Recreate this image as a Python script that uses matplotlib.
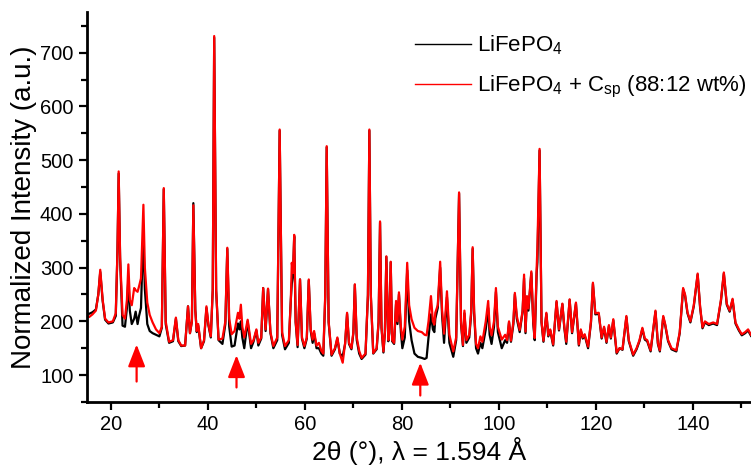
import matplotlib
matplotlib.use("Agg")
import matplotlib.pyplot as plt

plt.rcParams['font.family'] = ['Liberation Sans', 'DejaVu Sans']
plt.rcParams['mathtext.fontset'] = 'custom'
plt.rcParams['mathtext.rm'] = 'Liberation Sans'
plt.rcParams['mathtext.it'] = 'Liberation Sans:italic'

# 2theta positions (deg), with intensities for both samples
two_theta = [
    14.9, 15.5, 16.2, 16.9, 17.4, 17.8, 18.3, 18.8, 19.5, 20.4, 21.0, 21.35, 21.6, 21.9,
    22.4, 22.9, 23.3, 23.6, 23.9, 24.3, 24.8, 25.1, 25.5, 25.8, 26.2, 26.45, 26.7, 27.0, 27.5, 28.0, 28.6, 29.3,
    30.0, 30.5, 30.9, 31.3, 32.0, 32.8, 33.4, 33.9, 34.5, 35.3, 35.9, 36.3, 36.7, 37.0, 37.4, 37.7, 38.0, 38.6,
    39.2, 39.7, 40.1, 40.6, 41.0, 41.3, 41.7, 42.2, 43.0, 43.6, 44.0, 44.4,
    44.9, 45.5, 46.2, 46.5, 46.8, 47.1, 47.5, 48.2, 48.9, 49.4, 50.0, 50.4, 51.0, 51.4, 51.9, 52.4, 52.9, 53.5,
    54.3, 54.8, 55.3, 55.9, 56.7, 57.1, 57.3, 57.55, 57.8, 58.1, 58.5, 59.0, 59.4, 59.9, 60.4, 60.8, 61.2, 61.6, 61.9,
    62.4, 62.9, 63.4, 63.8, 64.2, 64.5, 64.9, 65.5, 66.2, 66.7, 67.2, 67.8, 68.3, 68.7, 69.1, 69.6, 70.0, 70.3, 70.7,
    71.2, 71.7, 72.5, 73.0, 73.3, 73.6, 74.1, 74.8, 75.2, 75.5, 75.8, 76.2, 76.5, 76.8, 77.2, 77.4, 77.7, 78.0, 78.4, 78.8, 79.1, 79.4, 79.8, 80.1,
    80.6, 81.1, 81.5, 82.0, 82.6, 83.3, 84.1, 84.7, 85.1, 85.5, 86.0, 86.4, 86.7, 86.9, 87.4, 87.9, 88.3, 88.7, 89.3, 89.8, 90.6,
    91.2, 91.8, 92.2, 92.6, 92.9, 93.3, 93.9, 94.3, 94.6, 94.9, 95.3, 95.7, 96.2, 96.6, 97.3, 97.8, 98.1, 98.5, 99.0, 99.4, 99.8,
    100.6, 101.3, 101.7, 102.1, 102.5, 103.0, 103.3, 103.7, 104.3, 104.9, 105.2, 105.5, 105.8, 106.1, 106.7, 107.1, 107.4, 107.8, 107.95, 108.4, 108.8, 109.2,
    109.8, 110.2, 110.6, 111.2, 111.9, 112.4, 113.1, 113.5, 113.9, 114.6, 115.1, 115.9, 116.5, 116.9, 117.3, 117.7, 118.4,
    119.0, 119.4, 119.9, 120.6, 121.2, 121.7, 122.2, 122.7, 123.1, 123.6, 124.3, 124.9, 125.5, 126.3, 126.8, 127.7,
    128.4, 129.0, 129.6, 130.1, 130.6, 131.3, 132.3, 132.8, 133.2, 133.9, 134.3, 134.9, 135.6, 136.6, 137.3,
    138.0, 138.4, 138.9, 139.5, 140.2, 141.0, 141.5, 142.0, 142.5, 143.3, 144.2, 145.0, 145.8, 146.4, 147.0, 147.6, 148.2, 148.8, 149.5, 150.1, 150.8, 151.4, 152.0,
]

lfp = [
    215, 214, 217, 222, 250, 292, 238, 203, 196, 198, 210, 330, 475, 315,
    192, 190, 225, 280, 220, 195, 205, 218, 195, 210, 225, 300, 353, 260, 195, 182, 178, 175,
    172, 188, 446, 195, 160, 163, 205, 163, 154, 155, 228, 178, 200, 420, 222, 180, 192, 150,
    163, 225, 193, 170, 258, 728, 258, 165, 158, 195, 335, 190,
    153, 155, 196, 185, 200, 170, 150, 200, 150, 162, 183, 155, 168, 262, 182, 260, 178, 150,
    165, 555, 175, 148, 160, 240, 270, 285, 358, 198, 152, 278, 168, 150, 168, 276, 182, 160, 178,
    150, 150, 140, 136, 245, 524, 198, 136, 148, 168, 140, 135, 158, 214, 158, 148, 178, 268, 165,
    140, 130, 138, 248, 555, 248, 140, 148, 198, 384, 188, 142, 178, 320, 163, 178, 310, 163, 158, 232, 195, 250, 180, 150,
    170, 295, 200, 165, 140, 134, 132, 130, 132, 170, 213, 185, 180, 205, 225, 300, 210, 160, 245, 160, 134,
    165, 438, 195, 154, 215, 160, 170, 215, 335, 215, 150, 140, 160, 150, 185, 225, 175, 158, 190, 255, 180,
    150, 165, 160, 198, 162, 195, 250, 205, 180, 218, 280, 178, 245, 220, 290, 195, 165, 290, 310, 518, 198, 162,
    214, 172, 183, 155, 236, 183, 232, 188, 158, 240, 178, 233, 155, 183, 168, 174, 150,
    198, 270, 213, 214, 168, 188, 160, 191, 168, 202, 140, 150, 147, 208, 163, 136,
    148, 163, 186, 166, 163, 144, 218, 158, 144, 208, 193, 163, 148, 144, 178,
    260, 248, 215, 198, 228, 287, 226, 187, 198, 193, 196, 193, 238, 289, 231, 218, 240, 196, 183, 174, 178, 183, 173,
]

lfp_csp = [
    212, 208, 213, 220, 250, 296, 240, 205, 198, 200, 215, 330, 479, 320,
    212, 205, 240, 306, 240, 230, 262, 258, 255, 265, 280, 350, 417, 300, 235, 212, 198, 185,
    178, 190, 448, 200, 162, 165, 207, 165, 155, 155, 228, 178, 200, 416, 220, 182, 195, 150,
    165, 228, 195, 172, 260, 731, 260, 166, 168, 200, 337, 205,
    176, 182, 216, 205, 231, 190, 170, 203, 158, 165, 185, 160, 170, 262, 185, 261, 180, 154,
    170, 557, 180, 154, 165, 240, 309, 290, 361, 200, 156, 278, 170, 154, 170, 278, 185, 166, 182,
    155, 160, 145, 140, 250, 526, 200, 138, 150, 170, 140, 123, 160, 216, 160, 150, 180, 269, 170,
    145, 132, 140, 250, 557, 250, 141, 150, 200, 386, 190, 144, 180, 321, 165, 180, 311, 165, 160, 238, 200, 254, 190, 166,
    190, 309, 230, 204, 188, 182, 180, 175, 174, 200, 247, 200, 194, 216, 230, 311, 220, 177, 256, 175, 144,
    170, 440, 200, 156, 220, 165, 175, 220, 338, 220, 158, 150, 172, 162, 200, 238, 190, 174, 200, 262, 190,
    166, 175, 165, 200, 164, 200, 253, 210, 184, 220, 287, 181, 247, 224, 293, 200, 169, 300, 337, 521, 200, 164,
    216, 174, 185, 157, 238, 185, 233, 190, 162, 241, 180, 235, 157, 185, 170, 176, 153,
    200, 272, 215, 216, 170, 190, 162, 193, 170, 204, 142, 150, 148, 210, 165, 138,
    150, 165, 188, 168, 165, 146, 220, 160, 146, 210, 195, 165, 150, 146, 180,
    262, 250, 217, 200, 230, 289, 228, 189, 200, 195, 198, 195, 240, 291, 233, 220, 242, 198, 185, 176, 180, 185, 175,
]

# red arrows: x position, tip and tail intensity
arrow_x = [25.3, 45.9, 83.8]
arrow_tip = [157, 137, 123]
arrow_tail = [88, 77, 62]

fig = plt.figure(figsize=(7.51, 4.74), dpi=100)
ax = fig.add_axes([0.1154, 0.152, 0.8846, 0.823])

ax.plot(two_theta, lfp, color='black', lw=1.6, label='LiFePO$_4$')
ax.plot(two_theta, lfp_csp, color='red', lw=1.6, label='LiFePO$_4$ + C$_{\\mathrm{sp}}$ (88:12 wt%)')

for x, tip, tail in zip(arrow_x, arrow_tip, arrow_tail):
    ax.annotate('', xy=(x, tip), xytext=(x, tail),
                arrowprops=dict(arrowstyle='-|>,head_length=0.9,head_width=0.35',
                                color='red', lw=1.6, mutation_scale=15, shrinkA=0, shrinkB=0))

ax.set_xlim(15, 152)
ax.set_ylim(50, 776)
ax.set_xticks([20, 40, 60, 80, 100, 120, 140])
ax.set_xticks(range(30, 151, 20), minor=True)
ax.set_yticks([100, 200, 300, 400, 500, 600, 700])
ax.set_yticks(range(50, 751, 100), minor=True)

for side in ['top', 'right']:
    ax.spines[side].set_visible(False)
for side in ['left', 'bottom']:
    ax.spines[side].set_linewidth(2)

ax.tick_params(which='major', direction='out', length=6, width=1.6, labelsize=14.5)
ax.tick_params(which='minor', direction='out', length=4, width=1.6)

ax.set_xlabel('2θ (°), λ = 1.594 Å', fontsize=19, labelpad=2)
ax.set_ylabel('Normalized Intensity (a.u.)', fontsize=20, labelpad=2)

leg = ax.legend(loc='upper right', bbox_to_anchor=(1.0, 0.955), frameon=False, fontsize=16,
                handlelength=2.5, handletextpad=0.3, labelspacing=0.75, borderaxespad=0.0,
                borderpad=0.2)
for line in leg.get_lines():
    line.set_linewidth(1.0)

fig.savefig('out.png', dpi=100)
